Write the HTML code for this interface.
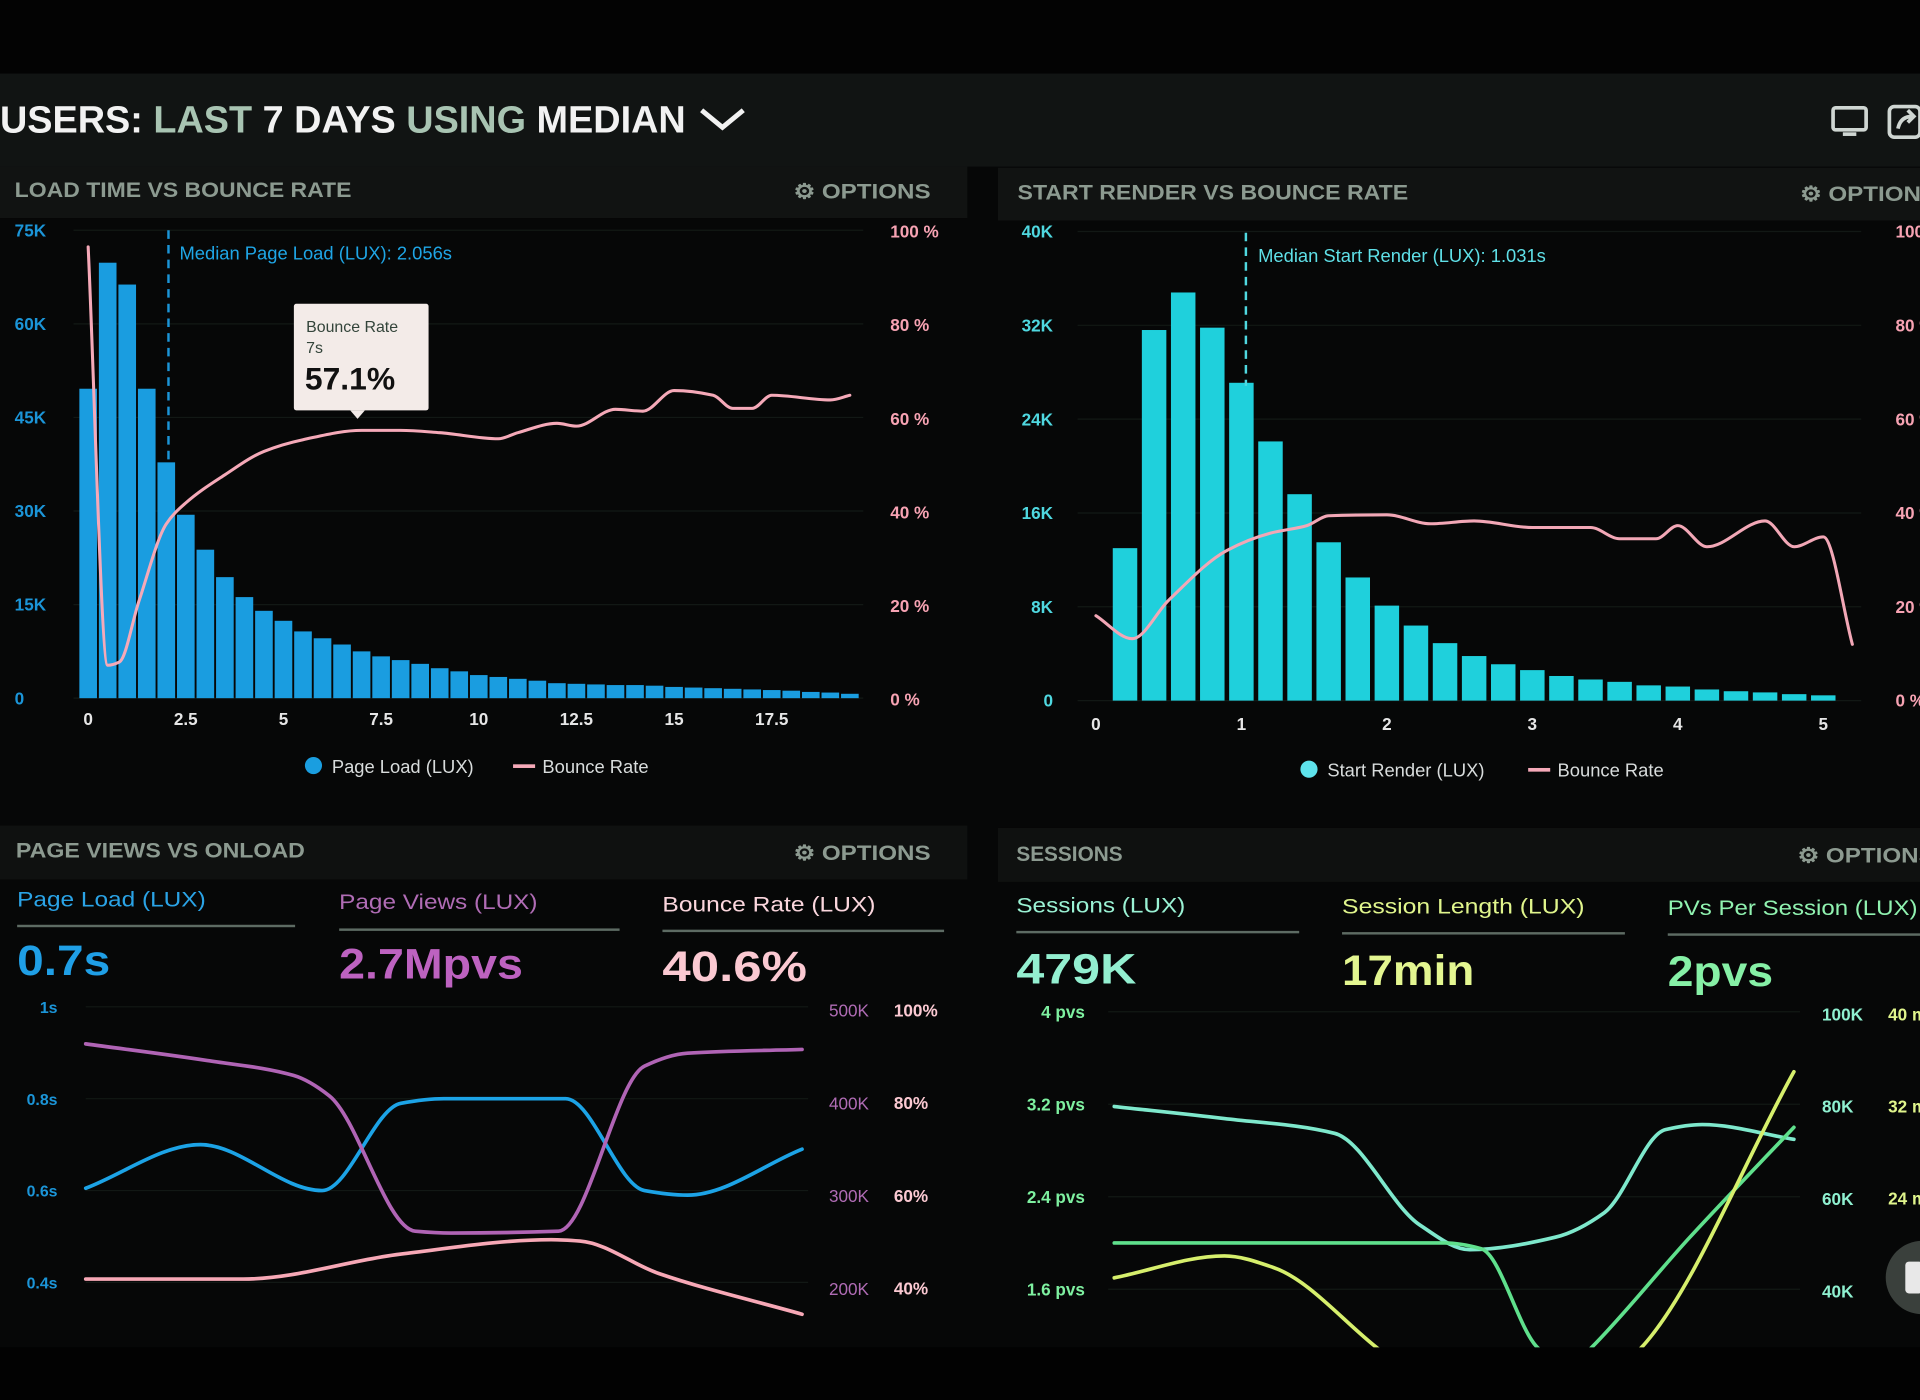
<!DOCTYPE html>
<html><head><meta charset="utf-8"><style>
html,body{margin:0;padding:0;background:#050606;overflow:hidden}
svg{display:block}
text{font-family:"Liberation Sans",sans-serif}
</style></head><body>
<svg id="s" width="1920" height="1400" viewBox="0 0 1568 1143" preserveAspectRatio="none" xmlns="http://www.w3.org/2000/svg">
<defs>
<clipPath id="cbr"><rect x="880" y="800" width="620" height="300"/></clipPath>
</defs>
<rect x="0" y="0" width="1568" height="1143" fill="#060707"/>
<rect x="0" y="0" width="1568" height="60" fill="#030303"/>
<rect x="0" y="60" width="1568" height="76" fill="#111413"/>
<text x="0" y="108" font-size="31" font-weight="bold" textLength="560" lengthAdjust="spacingAndGlyphs"><tspan fill="#f2f2f2">USERS: </tspan><tspan fill="#a8c4b2">LAST </tspan><tspan fill="#f2f2f2">7 DAYS </tspan><tspan fill="#a8c4b2">USING </tspan><tspan fill="#f2f2f2">MEDIAN</tspan></text>
<path d="M573 90 L590 104 L607 90" stroke="#f2f2f2" stroke-width="4" fill="none"/>
<g><rect x="1497" y="88" width="27" height="18" rx="2" fill="none" stroke="#cfd6d2" stroke-width="3"/><rect x="1505" y="108" width="11" height="3" fill="#cfd6d2"/></g>
<g><rect x="1543" y="87" width="25" height="25" rx="4" fill="none" stroke="#cfd6d2" stroke-width="3"/><path d="M1550 105 Q1552 95 1562 95 M1558 90 L1563 95 L1558 100" stroke="#cfd6d2" stroke-width="3" fill="none"/></g>

<rect x="0" y="136" width="790" height="42" fill="#111312"/>
<text x="12" y="161" font-size="17" font-weight="bold" fill="#8c9a90" textLength="275" lengthAdjust="spacingAndGlyphs">LOAD TIME VS BOUNCE RATE</text>
<text x="648" y="162" font-size="17" font-weight="bold" fill="#8c9a90" textLength="112" lengthAdjust="spacingAndGlyphs">⚙ OPTIONS</text>
<rect x="815" y="137" width="753" height="43" fill="#111312"/>
<text x="831" y="163" font-size="17" font-weight="bold" fill="#8c9a90" textLength="319" lengthAdjust="spacingAndGlyphs">START RENDER VS BOUNCE RATE</text>
<text x="1470" y="164" font-size="17" font-weight="bold" fill="#8c9a90" textLength="112" lengthAdjust="spacingAndGlyphs">⚙ OPTIONS</text>
<rect x="0" y="674" width="790" height="44" fill="#0f1110"/>
<text x="13" y="700" font-size="17" font-weight="bold" fill="#8c9a90" textLength="236" lengthAdjust="spacingAndGlyphs">PAGE VIEWS VS ONLOAD</text>
<text x="648" y="702" font-size="17" font-weight="bold" fill="#8c9a90" textLength="112" lengthAdjust="spacingAndGlyphs">⚙ OPTIONS</text>
<rect x="815" y="676" width="753" height="44" fill="#0f1110"/>
<text x="830" y="703" font-size="17" font-weight="bold" fill="#8c9a90">SESSIONS</text>
<text x="1468" y="704" font-size="17" font-weight="bold" fill="#8c9a90" textLength="112" lengthAdjust="spacingAndGlyphs">⚙ OPTIONS</text>
<rect x="0" y="1100" width="1568" height="43" fill="#020202"/>

<g>
<text x="14" y="740" font-size="17" fill="#2aa3e6" textLength="154" lengthAdjust="spacingAndGlyphs">Page Load (LUX)</text><rect x="14" y="755" width="227" height="2" fill="#5d6b63"/>
<text x="14" y="796" font-size="35" font-weight="bold" fill="#1f9fe6" textLength="76" lengthAdjust="spacingAndGlyphs">0.7s</text></g>
<g>
<text x="277" y="742" font-size="17" fill="#b06cb5" textLength="162" lengthAdjust="spacingAndGlyphs">Page Views (LUX)</text><rect x="277" y="758" width="229" height="2" fill="#5d6b63"/>
<text x="277" y="799" font-size="35" font-weight="bold" fill="#bd62c0" textLength="150" lengthAdjust="spacingAndGlyphs">2.7Mpvs</text></g>
<g>
<text x="541" y="744" font-size="17" fill="#fbd6dd" textLength="174" lengthAdjust="spacingAndGlyphs">Bounce Rate (LUX)</text><rect x="541" y="759" width="230" height="2" fill="#5d6b63"/>
<text x="541" y="801" font-size="35" font-weight="bold" fill="#fbc9d2" textLength="118" lengthAdjust="spacingAndGlyphs">40.6%</text></g>
<g>
<text x="830" y="745" font-size="17" fill="#9af2d4" textLength="138" lengthAdjust="spacingAndGlyphs">Sessions (LUX)</text><rect x="830" y="760" width="231" height="2" fill="#5d6b63"/>
<text x="830" y="803" font-size="35" font-weight="bold" fill="#93efd0" textLength="98" lengthAdjust="spacingAndGlyphs">479K</text></g>
<g>
<text x="1096" y="746" font-size="17" fill="#e0f58c" textLength="198" lengthAdjust="spacingAndGlyphs">Session Length (LUX)</text><rect x="1096" y="761" width="231" height="2" fill="#5d6b63"/>
<text x="1096" y="804" font-size="35" font-weight="bold" fill="#e3f690" textLength="108" lengthAdjust="spacingAndGlyphs">17min</text></g>
<g>
<text x="1362" y="747" font-size="17" fill="#90f2b0" textLength="204" lengthAdjust="spacingAndGlyphs">PVs Per Session (LUX)</text><rect x="1362" y="762" width="210" height="2" fill="#5d6b63"/>
<text x="1362" y="805" font-size="35" font-weight="bold" fill="#86f0a6" textLength="86" lengthAdjust="spacingAndGlyphs">2pvs</text></g>

<g id="charts"></g>

<g>
<rect x="240" y="248" width="110" height="87" fill="#f3ebe8" rx="2"/>
<path d="M286 335 L292 342 L298 335Z" fill="#f3ebe8"/>
<text x="250" y="271" font-size="13" fill="#33443a">Bounce Rate</text>
<text x="250" y="288" font-size="13" fill="#33443a">7s</text>
<text x="249" y="318" font-size="26" font-weight="bold" fill="#111">57.1%</text></g>

<g><circle cx="256" cy="625" r="7" fill="#1a9ee0"/><text x="271" y="631" font-size="15" fill="#d8dcdc">Page Load (LUX)</text></g>
<g><rect x="419" y="624" width="18" height="3" fill="#f5a9b8"/><text x="443" y="631" font-size="15" fill="#d8dcdc">Bounce Rate</text></g>
<g><circle cx="1069" cy="628" r="7" fill="#5ee3ec"/><text x="1084" y="634" font-size="15" fill="#d8dcdc">Start Render (LUX)</text></g>
<g><rect x="1248" y="627" width="18" height="3" fill="#f5a9b8"/><text x="1272" y="634" font-size="15" fill="#d8dcdc">Bounce Rate</text></g>
<g><circle cx="1570" cy="1043" r="30" fill="#3a403c"/><rect x="1556" y="1030" width="14" height="26" rx="3" fill="#e8e8e8"/></g>
</svg>
<script>
const loadBins = [0,0.5,1,1.5,2,2.5,3,3.5,4,4.5,5,5.5,6,6.5,7,7.5,8,8.5,9,9.5,10,10.5,11,11.5,12,12.5,13,13.5,14,14.5,15,15.5,16,16.5,17,17.5,18,18.5,19,19.5];
const loadCounts = [49.6,69.8,66.3,49.6,37.8,29.4,23.8,19.4,16.2,14,12.4,10.7,9.6,8.6,7.5,6.7,6.1,5.5,4.8,4.3,3.7,3.4,3.1,2.8,2.4,2.3,2.2,2.1,2.1,2.0,1.8,1.7,1.6,1.5,1.4,1.3,1.2,1.0,0.9,0.7];
const loadBounceX = [0,0.5,0.8,1.3,2,2.5,3.5,4.5,5.5,7,8,9,10.5,11,12,12.5,13.5,14.2,15,16,16.5,17,17.5,19,19.5];
const loadBounceY = [96.7,7.3,8,21,37.5,42,48,53,55.5,57.5,57.5,57,55.7,57,59,58.4,62,61.6,66,65,62.2,62.2,65,64,65];
const loadYTicks = [0,15,30,45,60,75];
const loadYTickLabels = ['0','15K','30K','45K','60K','75K'];
const loadPctTicks = [0,20,40,60,80,100];
const loadXTicks = [0,2.5,5,7.5,10,12.5,15,17.5];
const loadXTickLabels = ['0','2.5','5','7.5','10','12.5','15','17.5'];
const loadMedian = 2.056;
const renderBins = [0.2,0.4,0.6,0.8,1,1.2,1.4,1.6,1.8,2,2.2,2.4,2.6,2.8,3,3.2,3.4,3.6,3.8,4,4.2,4.4,4.6,4.8,5];
const renderCounts = [13,31.6,34.8,31.8,27.1,22.1,17.6,13.5,10.5,8.1,6.4,4.9,3.8,3.1,2.6,2.1,1.8,1.6,1.3,1.2,0.95,0.8,0.7,0.55,0.45];
const renderBounceX = [0,0.25,0.5,0.9,1.2,1.45,1.6,2,2.3,2.6,3,3.4,3.6,3.85,4,4.2,4.6,4.8,5,5.2];
const renderBounceY = [18.1,13.2,21.4,32,35.7,37.3,39.4,39.6,37.7,38.3,36.9,36.9,34.5,34.5,37.3,32.8,38.3,32.8,34.9,12];
const renderYTicks = [0,8,16,24,32,40];
const renderYTickLabels = ['0','8K','16K','24K','32K','40K'];
const renderXTicks = [0,1,2,3,4,5];
const renderMedian = 1.031;
const pvLoadT = [0,16,33,44,50,67,78,84,100];
const pvLoadS = [0.605,0.7,0.6,0.79,0.8,0.8,0.6,0.59,0.69];
const pvViewsT = [0,17,29,34,46,51,66,78,84,100];
const pvViewsK = [464,446,430,408,262,260,262,440,454,458];
const pvBounceT = [0,22,44,65,69,80,100];
const pvBounceP = [42,42,47.4,50.5,50.2,43.2,34.4];
const pvLeftTicks = [1,0.8,0.6,0.4];
const pvLeftLabels = ['1s','0.8s','0.6s','0.4s'];
const pvKTicks = [500,400,300,200];
const pvPctTicks = [100,80,60,40];
const sesT = [0,16.2,32.4,45,52.3,64.9,72.1,81.1,86.5,100];
const sesK = [80,77.4,74.2,54.3,49,51.7,57,75,76.1,72.9];
const pvsT = [0,48.6,54,62.2,66.7,70.3,84.7,100];
const pvsV = [2.0,2.0,1.95,1.1,0.9,1.1,2.05,3.0];
const lenT = [0,16.2,23.4,38.7,57.7,77.5,100];
const lenM = [17.1,19,18,11,2,11,35];
const sesPvsTicks = [4,3.2,2.4,1.6];
const sesKTicks = [100,80,60,40];
const sesMinTicks = [40,32,24];

const NS='http://www.w3.org/2000/svg';
const root=document.getElementById('charts');
function mk(tag,attrs,parent){const e=document.createElementNS(NS,tag);for(const k in attrs)e.setAttribute(k,attrs[k]);(parent||root).appendChild(e);return e;}
// monotone cubic (Fritsch-Carlson) to avoid overshoot
function smooth(pts){const n=pts.length;const dx=[],dy=[],m=[];for(let i=0;i<n-1;i++){dx.push(pts[i+1][0]-pts[i][0]);dy.push(pts[i+1][1]-pts[i][1]);m.push(dy[i]/dx[i]);}
const t=[m[0]];for(let i=1;i<n-1;i++){if(m[i-1]*m[i]<=0)t.push(0);else{const w1=2*dx[i]+dx[i-1],w2=dx[i]+2*dx[i-1];t.push((w1+w2)/(w1/m[i-1]+w2/m[i]));}}t.push(m[n-2]);
let d='M'+pts[0][0]+' '+pts[0][1];for(let i=0;i<n-1;i++){const h=dx[i]/3;d+=' C'+(pts[i][0]+h)+' '+(pts[i][1]+t[i]*h)+' '+(pts[i+1][0]-h)+' '+(pts[i+1][1]-t[i+1]*h)+' '+pts[i+1][0]+' '+pts[i+1][1];}return d;}
function label(x,y,txt,size,fill,anchor,weight,name){const t=mk('text',{x:x,y:y,'font-size':size,fill:fill,'text-anchor':anchor||'start','font-weight':weight||'normal'});t.textContent=txt;


return t;}
function grid(x1,x2,y){const g=mk('line',{x1:x1,x2:x2,y1:y,y2:y,stroke:'#121815','stroke-width':1});

}
function line(d,color,w,name,clip){const p=mk('path',{d:d,fill:'none',stroke:color,'stroke-width':w,'stroke-linecap':'round'});if(clip)p.setAttribute('clip-path','url(#'+clip+')');

}

const xL=v=>72+v*31.9, yL=v=>570-v*(382/75), yLp=p=>571-p*3.82;
loadYTicks.forEach((v,i)=>{grid(60,705,yL(v));label(12,yL(v)+5,loadYTickLabels[i],14,'#1b95d8','start','bold','load-y-tick');});
loadPctTicks.forEach(p=>label(727,yLp(p)+5,p+' %',14,'#f7a3b3','start','bold','load-pct-tick'));
loadXTicks.forEach((v,i)=>label(xL(v),592,loadXTickLabels[i],14,'#e6e6e6','middle','bold','load-x-tick'));
loadBins.forEach((b,i)=>{const r=mk('rect',{x:xL(b)-7.2,y:yL(loadCounts[i]),width:14.4,height:yL(0)-yL(loadCounts[i]),fill:'#1a9de0'});

});
line(smooth(loadBounceX.map((x,i)=>[xL(x),yLp(loadBounceY[i])])),'#f5a9b8',2.5,'load-bounce-rate-line');
const m1=mk('line',{x1:xL(loadMedian),x2:xL(loadMedian),y1:188,y2:380,stroke:'#1b95d8','stroke-width':2,'stroke-dasharray':'7 5'});


label(xL(loadMedian)+9,212,'Median Page Load (LUX): 2.056s',15,'#1fa6e6','start','normal','median-page-load-label');

const xR=v=>895+v*118.8, yR=v=>572-v*(383/40), yRp=p=>572-p*3.83;
renderYTicks.forEach((v,i)=>{grid(880,1520,yR(v));label(860,yR(v)+5,renderYTickLabels[i],14,'#4fd8e0','end','bold','render-y-tick');});
loadPctTicks.forEach(p=>label(1548,yRp(p)+5,p+' %',14,'#f7a3b3','start','bold','render-pct-tick'));
renderXTicks.forEach(v=>label(xR(v),596,String(v),14,'#e6e6e6','middle','bold','render-x-tick'));
renderBins.forEach((b,i)=>{const r=mk('rect',{x:xR(b)-10,y:yR(renderCounts[i]),width:20,height:yR(0)-yR(renderCounts[i]),fill:'#1fd0dc'});

});
line(smooth(renderBounceX.map((x,i)=>[xR(x),yRp(renderBounceY[i])])),'#f2a7b6',2.5,'render-bounce-rate-line');
const m2=mk('line',{x1:xR(renderMedian),x2:xR(renderMedian),y1:190,y2:315,stroke:'#4fd8e0','stroke-width':2,'stroke-dasharray':'7 5'});


label(xR(renderMedian)+10,214,'Median Start Render (LUX): 1.031s',15,'#5fe0e8','start','normal','median-start-render-label');

const xBL=t=>70+t*5.85, yBLs=s=>822+(1-s)*375, yBLk=k=>825+(500-k)*0.757, yBLp=p=>825+(100-p)*3.78;
pvLeftTicks.forEach((v,i)=>{grid(70,660,yBLs(v));label(47,yBLs(v)+5,pvLeftLabels[i],13,'#1b95d8','end','bold','pv-left-tick');});
pvKTicks.forEach(k=>label(677,yBLk(k)+5,k+'K',14,'#b06cb5','start','normal','pv-views-tick'));
pvPctTicks.forEach(p=>label(730,yBLp(p)+5,p+'%',14,'#fbc9d2','start','bold','pv-bounce-tick'));
line(smooth(pvLoadT.map((t,i)=>[xBL(t),yBLs(pvLoadS[i])])),'#1ca3e6',3,'page-load-line');
line(smooth(pvViewsT.map((t,i)=>[xBL(t),yBLk(pvViewsK[i])])),'#b064b5',3,'page-views-line');
line(smooth(pvBounceT.map((t,i)=>[xBL(t),yBLp(pvBounceP[i])])),'#f7a8b6',3,'page-bounce-line');

const xBR=t=>910+t*5.55, yPvs=v=>826+(4-v)*94.4, yK=k=>828+(100-k)*3.77, yMin=m=>828+(40-m)*9.4;
sesPvsTicks.forEach(v=>{grid(905,1470,yPvs(v));label(886,yPvs(v)+5,v+' pvs',14,'#7ef0a0','end','bold','pvs-tick');});
sesKTicks.forEach(k=>label(1488,yK(k)+5,k+'K',14,'#8ff0d0','start','bold','sessions-k-tick'));
sesMinTicks.forEach(m=>label(1542,yMin(m)+5,m+' min',14,'#e0f58c','start','bold','session-min-tick'));
line(smooth(sesT.map((t,i)=>[xBR(t),yK(sesK[i])])),'#7ee8cc',3,'sessions-line','cbr');
line(smooth(pvsT.map((t,i)=>[xBR(t),yPvs(pvsV[i])])),'#5fe08c',3,'pvs-per-session-line','cbr');
line(smooth(lenT.map((t,i)=>[xBR(t),yMin(lenM[i])])),'#d6ef6c',3,'session-length-line','cbr');
</script>
</body></html>
